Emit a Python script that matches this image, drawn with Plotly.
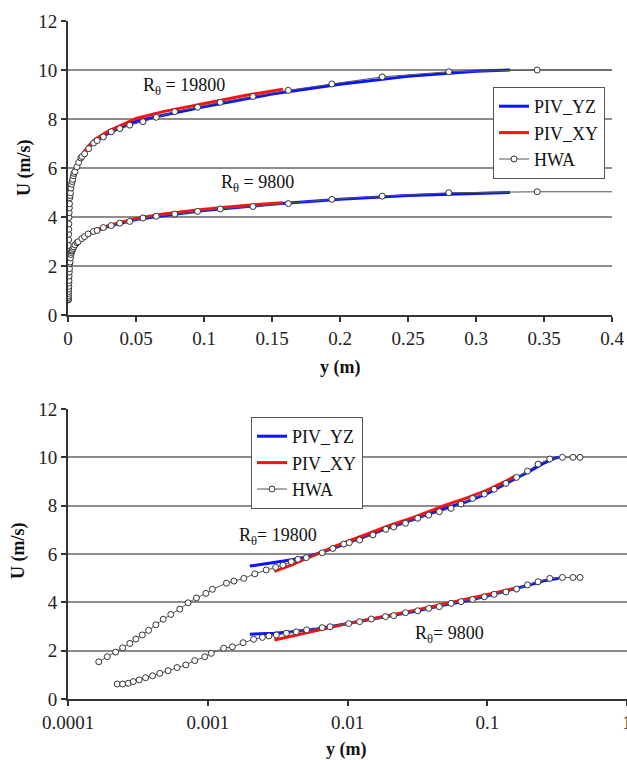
import plotly.graph_objects as go

# ---- Mean velocity profiles, two Reynolds numbers ----
# Hot-wire anemometry (HWA), R_theta = 19800
hwa_y_19800 = [1.66e-4, 1.91e-4, 2.19e-4, 2.46e-4, 2.77e-4, 3.06e-4, 3.40e-4, 3.77e-4,
               4.25e-4, 4.80e-4, 5.44e-4, 6.31e-4, 7.23e-4, 8.30e-4, 9.70e-4, 1.08e-3,
               1.36e-3, 1.54e-3, 1.81e-3, 2.17e-3, 2.62e-3, 3.06e-3, 3.45e-3, 3.96e-3,
               4.42e-3, 5.07e-3, 6.59e-3, 7.85e-3, 9.41e-3, 0.0103, 0.0122, 0.0152,
               0.0188, 0.0214, 0.026, 0.0318, 0.0381, 0.0454, 0.0551, 0.0649, 0.0785,
               0.0953, 0.112, 0.136, 0.162, 0.194, 0.231, 0.28, 0.345, 0.411, 0.461]
hwa_u_19800 = [1.54, 1.75, 1.94, 2.12, 2.30, 2.48, 2.65, 2.84,
               3.07, 3.30, 3.50, 3.72, 3.98, 4.18, 4.37, 4.54,
               4.79, 4.88, 4.99, 5.18, 5.34, 5.45, 5.54, 5.68,
               5.78, 5.85, 6.05, 6.23, 6.41, 6.47, 6.58, 6.79,
               7.02, 7.12, 7.27, 7.48, 7.61, 7.75, 7.89, 8.07, 8.30,
               8.48, 8.68, 8.92, 9.17, 9.43, 9.72, 9.93, 10.0, 10.0, 10.0]

# Hot-wire anemometry (HWA), R_theta = 9800
hwa_y_9800 = [2.25e-4, 2.46e-4, 2.70e-4, 2.93e-4, 3.23e-4, 3.59e-4, 4.03e-4, 4.54e-4,
              5.20e-4, 6.04e-4, 6.97e-4, 8.07e-4, 9.52e-4, 1.06e-3, 1.30e-3, 1.50e-3,
              1.79e-3, 2.13e-3, 2.46e-3, 2.74e-3, 3.10e-3, 3.65e-3, 4.30e-3, 5.10e-3,
              6.59e-3, 7.50e-3, 0.0102, 0.0122, 0.0148, 0.0187, 0.0214, 0.026, 0.0318,
              0.0381, 0.0454, 0.0551, 0.0649, 0.0785, 0.0953, 0.112, 0.136, 0.162,
              0.194, 0.231, 0.28, 0.345, 0.411, 0.461]
hwa_u_9800 = [0.62, 0.62, 0.65, 0.72, 0.79, 0.88, 0.96, 1.06,
              1.17, 1.30, 1.41, 1.59, 1.75, 1.89, 2.10, 2.16,
              2.33, 2.47, 2.55, 2.61, 2.65, 2.72, 2.78, 2.86,
              2.95, 2.99, 3.12, 3.20, 3.31, 3.41, 3.45, 3.57, 3.65,
              3.75, 3.82, 3.96, 4.03, 4.12, 4.23, 4.33, 4.43, 4.55,
              4.72, 4.85, 4.99, 5.03, 5.03, 5.03]

# Stereo PIV, YZ plane
piv_yz_y = [0.002, 0.003, 0.004, 0.005, 0.006, 0.008, 0.01, 0.015, 0.02, 0.03,
            0.05, 0.07, 0.1, 0.15, 0.2, 0.25, 0.3, 0.325]
piv_yz_u_19800 = [5.50, 5.65, 5.76, 5.87, 6.00, 6.25, 6.45, 6.85, 7.08, 7.43,
                  7.90, 8.15, 8.50, 9.02, 9.42, 9.74, 9.95, 10.0]
piv_yz_u_9800 = [2.68, 2.72, 2.78, 2.84, 2.90, 3.02, 3.12, 3.30, 3.42, 3.62,
                 3.90, 4.05, 4.26, 4.52, 4.72, 4.88, 4.98, 5.0]

# PIV, XY plane
piv_xy_y = [0.003, 0.004, 0.005, 0.006, 0.008, 0.01, 0.015, 0.02, 0.03, 0.05,
            0.07, 0.1, 0.13, 0.158]
piv_xy_u_19800 = [5.28, 5.55, 5.80, 5.98, 6.30, 6.52, 6.90, 7.18, 7.52, 8.02,
                  8.30, 8.64, 8.96, 9.22]
piv_xy_u_9800 = [2.44, 2.60, 2.75, 2.84, 2.98, 3.12, 3.32, 3.46, 3.66, 3.94,
                 4.12, 4.32, 4.47, 4.58]

x_ticks_lin = [0, 0.05, 0.1, 0.15, 0.2, 0.25, 0.3, 0.35, 0.4]
x_ticktext_lin = ["0", "0.05", "0.1", "0.15", "0.2", "0.25", "0.3", "0.35", "0.4"]
x_ticks_log = [0.0001, 0.001, 0.01, 0.1, 1]
x_ticktext_log = ["0.0001", "0.001", "0.01", "0.1", "1"]
y_ticks = [0, 2, 4, 6, 8, 10, 12]

SERIF = "Liberation Serif"
BLUE = "#0a14ff"
RED = "#ff1010"
HWA_LINE = "#555555"

fig = go.Figure()


def add_panel(xa, ya, legend_name):
    """Add PIV_YZ, PIV_XY and HWA profiles for both Reynolds numbers to one panel."""
    for i, u in enumerate([piv_yz_u_19800, piv_yz_u_9800]):
        fig.add_trace(go.Scatter(
            x=piv_yz_y, y=u, mode="lines", name="PIV_YZ",
            line=dict(color=BLUE, width=3), xaxis=xa, yaxis=ya,
            legend=legend_name, legendgroup=legend_name + "yz", showlegend=(i == 0)))
    for i, u in enumerate([piv_xy_u_19800, piv_xy_u_9800]):
        fig.add_trace(go.Scatter(
            x=piv_xy_y, y=u, mode="lines", name="PIV_XY",
            line=dict(color=RED, width=3), xaxis=xa, yaxis=ya,
            legend=legend_name, legendgroup=legend_name + "xy", showlegend=(i == 0)))
    for i, (yy, u) in enumerate([(hwa_y_19800, hwa_u_19800), (hwa_y_9800, hwa_u_9800)]):
        fig.add_trace(go.Scatter(
            x=yy, y=u, mode="lines+markers", name="HWA",
            line=dict(color=HWA_LINE, width=1),
            marker=dict(symbol="circle", size=6, color="white",
                        line=dict(color="#333333", width=1)),
            xaxis=xa, yaxis=ya, cliponaxis=True,
            legend=legend_name, legendgroup=legend_name + "hwa", showlegend=(i == 0)))


add_panel("x", "y", "legend")
add_panel("x2", "y2", "legend2")

W, H = 627, 760
tick_font = dict(family=SERIF, size=19, color="#222222")

common_y = dict(range=[0, 12], tickvals=y_ticks, showgrid=True, gridcolor="#8c8c8c",
                gridwidth=1.5, showline=True, linecolor="#333333", linewidth=2,
                ticks="outside", ticklen=5, tickwidth=1.5, tickcolor="#333333",
                tickfont=tick_font, zeroline=False, fixedrange=True, automargin=False)
common_x = dict(showgrid=False, showline=True, linecolor="#333333", linewidth=2,
                ticks="outside", ticklen=5, tickwidth=1.5, tickcolor="#333333",
                tickfont=tick_font, zeroline=False, fixedrange=True, automargin=False,
                ticklabeloverflow="allow")

legend_style = dict(font=dict(family=SERIF, size=18, color="#111111"),
                    bgcolor="white", bordercolor="#555555", borderwidth=1,
                    xanchor="left", yanchor="top", tracegroupgap=0,
                    itemwidth=30)

annot_font = dict(family=SERIF, size=18, color="#111111")


def label(text, px, py, angle=0):
    """Text placed by its centre, given in pixel position on the page."""
    return dict(text=text, x=px / W, y=1 - py / H, xref="paper", yref="paper",
                xanchor="center", yanchor="middle", showarrow=False,
                textangle=angle, font=annot_font)


fig.update_layout(
    template="none",
    font=dict(family=SERIF, size=18, color="#222222"),
    width=W, height=H,
    margin=dict(l=0, r=0, t=0, b=0, autoexpand=False),
    paper_bgcolor="white", plot_bgcolor="white",
    xaxis=dict(common_x, domain=[68 / W, 612 / W], anchor="y", range=[0, 0.4],
               tickvals=x_ticks_lin, ticktext=x_ticktext_lin),
    yaxis=dict(common_y, domain=[1 - 315 / H, 1 - 21 / H], anchor="x"),
    xaxis2=dict(common_x, domain=[68 / W, 1.0], anchor="y2", type="log", range=[-4, 0],
                tickvals=x_ticks_log, ticktext=x_ticktext_log),
    yaxis2=dict(common_y, domain=[1 - 699 / H, 1 - 409 / H], anchor="x2"),
    legend=dict(legend_style, x=493 / W, y=1 - 87 / H),
    legend2=dict(legend_style, x=251 / W, y=1 - 417 / H),
    annotations=[
        label("R<sub>θ</sub> = 19800", 184, 86),
        label("R<sub>θ</sub> = 9800", 257, 184),
        label("R<sub>θ</sub>= 19800", 278, 536),
        label("R<sub>θ</sub>= 9800", 449, 634),
        # axis titles
        label("<b>U (m/s)</b>", 24, 168, -90),
        label("<b>y (m)</b>", 340, 367),
        label("<b>U (m/s)</b>", 18, 551, -90),
        label("<b>y (m)</b>", 346, 749),
    ],
)

fig.write_html("out.html")
